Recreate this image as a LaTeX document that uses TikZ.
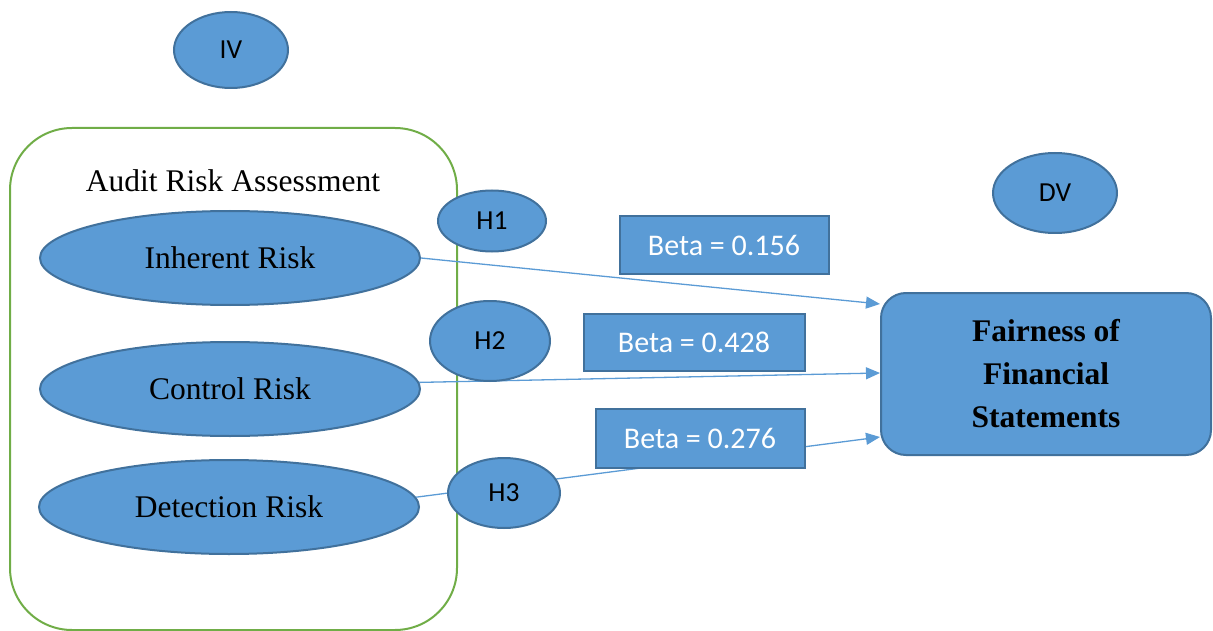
\documentclass[tikz,border=0pt]{standalone}
\usepackage{fontspec}
\setmainfont{Liberation Serif}
\newfontfamily\calibri{Carlito}
\usetikzlibrary{positioning, shapes.geometric, arrows.meta, calc}
\definecolor{boxblue}{HTML}{5B9BD5}
\definecolor{edgeblue}{HTML}{41719C}
\definecolor{framegreen}{HTML}{70AD47}
\tikzset{
  riskellipse/.style={ellipse, draw=edgeblue, fill=boxblue, line width=2pt,
    inner sep=0pt, minimum width=380pt, minimum height=94pt,
    font=\fontsize{31.5}{36}\selectfont},
  hypo/.style={ellipse, draw=edgeblue, fill=boxblue, line width=2pt,
    inner sep=0pt, font=\calibri\fontsize{27.5}{32}\selectfont},
  betabox/.style={rectangle, draw=edgeblue, fill=boxblue, line width=2pt,
    text=white, inner sep=0pt, minimum width=209pt, minimum height=57pt,
    font=\calibri\fontsize{30}{36}\selectfont},
  effect/.style={draw=boxblue, line width=1.3pt,
    -{Triangle[length=14pt, width=12pt]}}
}
\begin{document}
\begin{tikzpicture}[x=1pt, y=-1pt]
	\useasboundingbox (0,0) rectangle (1213,631);
	% variables
	\node[hypo, minimum width=114pt, minimum height=76pt] (IV) at (231,50) {IV};
	\node[hypo, minimum width=124pt, minimum height=80pt] (DV) at (1055,193) {DV};
	% independent block
	\draw[framegreen, line width=2pt, rounded corners=62pt] (10,128) rectangle (457,630);
	\node[font=\fontsize{31.5}{36}\selectfont] (title) at (233,181) {Audit Risk Assessment};
	\node[riskellipse] (Inherent) at (230,258) {Inherent Risk};
	\node[riskellipse] (Control) at (230,389) {Control Risk};
	\node[riskellipse] (Detection) at (229,507) {Detection Risk};
	% dependent
	\node[rectangle, rounded corners=25pt, draw=edgeblue, fill=boxblue, line width=2pt,
		minimum width=330pt, minimum height=162pt, align=center,
		font=\bfseries\fontsize{31.5}{43}\selectfont] (Fairness) at (1046,374)
		{Fairness of\\Financial\\Statements};
	% paths
	\draw[effect] (Inherent.east) -- ($(Fairness.west)+(0,-70)$);
	\draw[effect] (Control.2) -- ($(Fairness.west)+(0,-1)$);
	\draw[effect] (Detection.3) -- ($(Fairness.west)+(0,63)$);
	% hypotheses and coefficients
	\node[hypo, minimum width=108pt, minimum height=61pt] (H1) at (492,221) {H1};
	\node[hypo, minimum width=120pt, minimum height=80pt] (H2) at (490,341) {H2};
	\node[hypo, minimum width=112pt, minimum height=70pt] (H3) at (504,493) {H3};
	\node[betabox] (b1) at (724,245) {Beta = 0.156};
	\node[betabox, minimum width=221pt] (b2) at (694,342) {Beta = 0.428};
	\node[betabox, minimum height=59pt] (b3) at (700,438) {Beta = 0.276};
\end{tikzpicture}
\end{document}
